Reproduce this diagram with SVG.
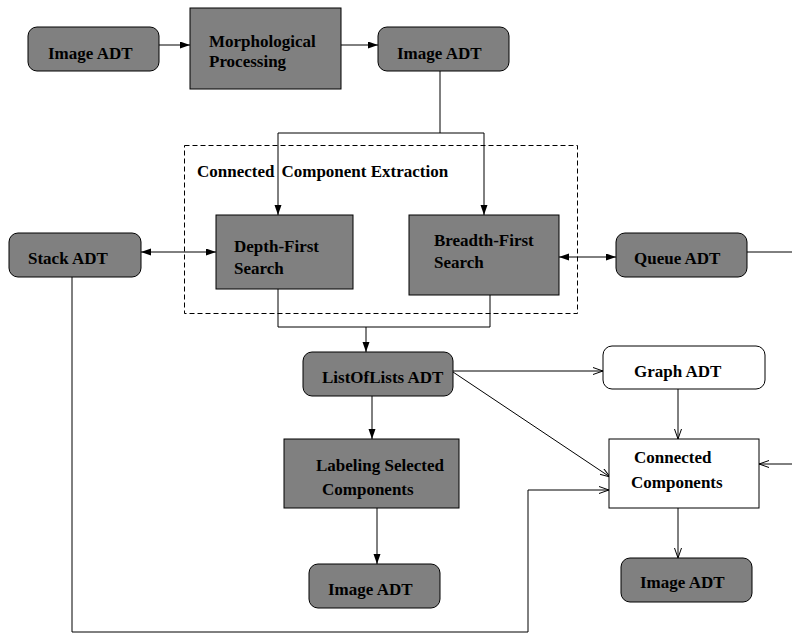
<svg xmlns="http://www.w3.org/2000/svg" width="792" height="633" viewBox="0 0 792 633">
<style>
.bx{fill:#808080;stroke:#000;stroke-width:1}
.wb{fill:#fff;stroke:#000;stroke-width:1}
.t{font-family:"Liberation Serif","Times New Roman",serif;font-weight:bold;font-size:17px;fill:#000}
.c{fill:none;stroke:#000;stroke-width:1}
</style>
<defs>
<marker id="af" markerUnits="userSpaceOnUse" markerWidth="10" markerHeight="8" refX="10" refY="3.5" orient="auto-start-reverse"><path d="M0,0 L10,3.5 L0,7 z" fill="#000"/></marker>
<marker id="ao" markerUnits="userSpaceOnUse" markerWidth="11" markerHeight="9" refX="10" refY="4" orient="auto"><path d="M0,0.5 L10,4 L0,7.5" fill="none" stroke="#000" stroke-width="1"/></marker>
</defs>
<rect width="792" height="633" fill="#fff"/>
<g id="connectors">
<path class="c" d="M159,45 H190" marker-end="url(#af)"/>
<path class="c" d="M341,45 H378" marker-end="url(#af)"/>
<path class="c" d="M440,71 V133 H278 V215" marker-end="url(#af)"/>
<path class="c" d="M440,133 H484 V215" marker-end="url(#af)"/>
<path class="c" d="M141,252 H216" marker-start="url(#af)" marker-end="url(#af)"/>
<path class="c" d="M559,257 H616" marker-start="url(#af)" marker-end="url(#af)"/>
<path class="c" d="M747,252 H792"/>
<path class="c" d="M278,289 V327 H490 V295"/>
<path class="c" d="M366,327 V352" marker-end="url(#af)"/>
<path class="c" d="M453,371 H603" marker-end="url(#ao)"/>
<path class="c" d="M453,372 L610,477" marker-end="url(#ao)"/>
<path class="c" d="M372,396 V439" marker-end="url(#af)"/>
<path class="c" d="M678,389 V439" marker-end="url(#ao)"/>
<path class="c" d="M792,464 H759" marker-end="url(#ao)"/>
<path class="c" d="M72,277 V632 H528 V490 H609" marker-end="url(#ao)"/>
<path class="c" d="M377,508 V564" marker-end="url(#af)"/>
<path class="c" d="M678,508 V558" marker-end="url(#ao)"/>
</g>
<g id="cce">
<rect x="184.5" y="145.5" width="393" height="168" fill="none" stroke="#000" stroke-width="1" stroke-dasharray="5,3"/>
<text class="t" x="197" y="177">Connected<tspan dx="7">Component Extraction</tspan></text>
</g>
<g id="img1"><rect class="bx" x="28" y="27" width="131" height="44" rx="9"/><text class="t" x="48" y="59">Image ADT</text></g>
<g id="morph"><rect class="bx" x="190" y="8" width="151" height="81"/><text class="t" x="209" y="47">Morphological</text><text class="t" x="209" y="67">Processing</text></g>
<g id="img2"><rect class="bx" x="378" y="27" width="131" height="44" rx="9"/><text class="t" x="397" y="59">Image ADT</text></g>
<g id="stack"><rect class="bx" x="9" y="233" width="132" height="44" rx="9"/><text class="t" x="28" y="264">Stack ADT</text></g>
<g id="dfs"><rect class="bx" x="216" y="215" width="137" height="74"/><text class="t" x="234" y="252">Depth-First</text><text class="t" x="234" y="274">Search</text></g>
<g id="bfs"><rect class="bx" x="409" y="215" width="150" height="80"/><text class="t" x="434" y="246">Breadth-First</text><text class="t" x="434" y="268">Search</text></g>
<g id="queue"><rect class="bx" x="616" y="233" width="131" height="44" rx="9"/><text class="t" x="634" y="264">Queue ADT</text></g>
<g id="lol"><rect class="bx" x="303" y="352" width="150" height="44" rx="9"/><text class="t" x="322" y="383">ListOfLists ADT</text></g>
<g id="graph"><rect class="wb" x="603" y="346" width="162" height="43" rx="9"/><text class="t" x="634" y="377">Graph ADT</text></g>
<g id="label"><rect class="bx" x="284" y="439" width="175" height="69"/><text class="t" x="316" y="471">Labeling Selected</text><text class="t" x="322" y="495">Components</text></g>
<g id="cc"><rect class="wb" x="609" y="439" width="150" height="69"/><text class="t" x="634" y="463">Connected</text><text class="t" x="631" y="488">Components</text></g>
<g id="img3"><rect class="bx" x="309" y="564" width="131" height="44" rx="9"/><text class="t" x="328" y="595">Image ADT</text></g>
<g id="img4"><rect class="bx" x="621" y="558" width="131" height="44" rx="9"/><text class="t" x="640" y="588">Image ADT</text></g>
</svg>
